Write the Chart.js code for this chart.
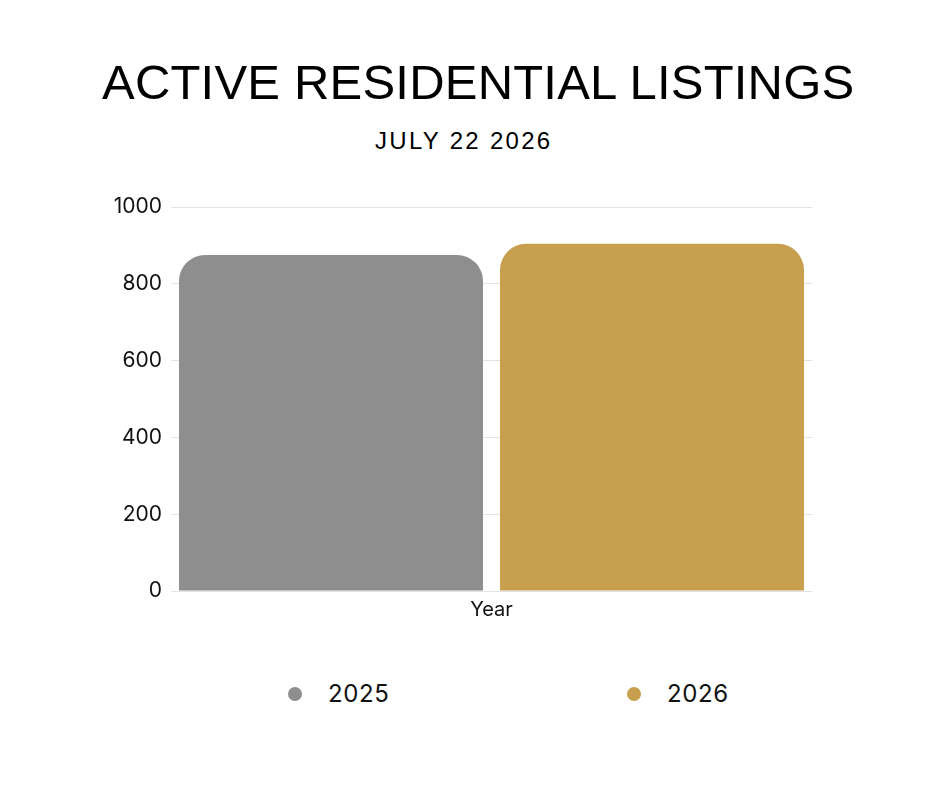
<!DOCTYPE html>
<html>
<head>
<meta charset="utf-8">
<script src="https://cdn.jsdelivr.net/npm/chart.js@4.4.1/dist/chart.umd.min.js"></script>
<style>
  html, body { margin: 0; padding: 0; background: #fff; }
  body { width: 940px; height: 788px; position: relative; overflow: hidden; }
  #title { position: absolute; left: 102px; top: 57.5px; font-family: "Liberation Sans", Arial, sans-serif; font-size: 49px; line-height: 49px; letter-spacing: 0.2px; color: #000; white-space: nowrap; }
  #subtitle { position: absolute; left: 375px; top: 128.7px; font-family: "Liberation Sans", Arial, sans-serif; font-size: 24px; line-height: 24px; letter-spacing: 2.3px; color: #000; white-space: nowrap; }
  #chartBox { position: absolute; left: 0; top: 179px; }
  #legend { position: absolute; left: 288px; top: 680px; display: flex; }
  .item { width: 339px; height: 28px; display: flex; align-items: center; }
  .dot { width: 14px; height: 14px; border-radius: 50%; margin-right: 26px; }
  .lbl { font-family: Inter, sans-serif; font-size: 24px; line-height: 28px; letter-spacing: 0.6px; color: #111; }
</style>
</head>
<body>
<div id="title">ACTIVE RESIDENTIAL LISTINGS</div>
<div id="subtitle">JULY 22 2026</div>
<div id="chartBox"><canvas id="grafica" width="940" height="452"></canvas></div>
<div id="legend"></div>
<script>
var categories = ["Year"];
var seriesNames = ["2025", "2026"];
var values2025 = [875];
var values2026 = [904];
var colors = ["#8e8e8e", "#c8a04d"];
var yTicks = [0, 200, 400, 600, 800, 1000];

var ctx = document.getElementById("grafica").getContext('2d');
var myChart = new Chart(ctx, {
    type: 'bar',
    data: {
        labels: categories,
        datasets: [{
            label: seriesNames[0],
            data: values2025,
            backgroundColor: colors[0],
            borderRadius: { topLeft: 26, topRight: 26, bottomLeft: 0, bottomRight: 0 },
            borderSkipped: 'start'
        }, {
            label: seriesNames[1],
            data: values2026,
            backgroundColor: colors[1],
            borderRadius: { topLeft: 26, topRight: 26, bottomLeft: 0, bottomRight: 0 },
            borderSkipped: 'start'
        }]
    },
    options: {
        responsive: false,
        animation: false,
        devicePixelRatio: 1,
        // bars 304px wide with a 17px gap, outer edges flush with the plot
        barPercentage: 0.947,
        categoryPercentage: 1,
        layout: {
            padding: { left: 100, right: 127.5, top: 28, bottom: 0 }
        },
        plugins: {
            legend: { display: false },
            tooltip: { enabled: false }
        },
        scales: {
            x: {
                grid: { display: false, drawTicks: false },
                border: { display: false },
                ticks: {
                    padding: 7,
                    color: '#111',
                    font: { family: 'Inter', size: 20 }
                },
                afterFit: function (scale) { scale.height = 40; }
            },
            y: {
                min: yTicks[0],
                max: yTicks[yTicks.length - 1],
                grid: { color: '#e3e3e3', lineWidth: 1, drawTicks: false },
                border: { display: false },
                ticks: {
                    stepSize: 200,
                    padding: 8.5,
                    color: '#111',
                    font: { family: 'Inter', size: 21 },
                    callback: function (v) { return String(v); }
                },
                afterFit: function (scale) { scale.width = 70.5; }
            }
        }
    }
});

// legend built as html from the same series arrays
var legend = document.getElementById("legend");
seriesNames.forEach(function (name, i) {
    var item = document.createElement("div");
    item.className = "item";
    var dot = document.createElement("span");
    dot.className = "dot";
    dot.style.background = colors[i];
    var lbl = document.createElement("span");
    lbl.className = "lbl";
    lbl.textContent = name;
    item.appendChild(dot);
    item.appendChild(lbl);
    legend.appendChild(item);
});
</script>
</body>
</html>
